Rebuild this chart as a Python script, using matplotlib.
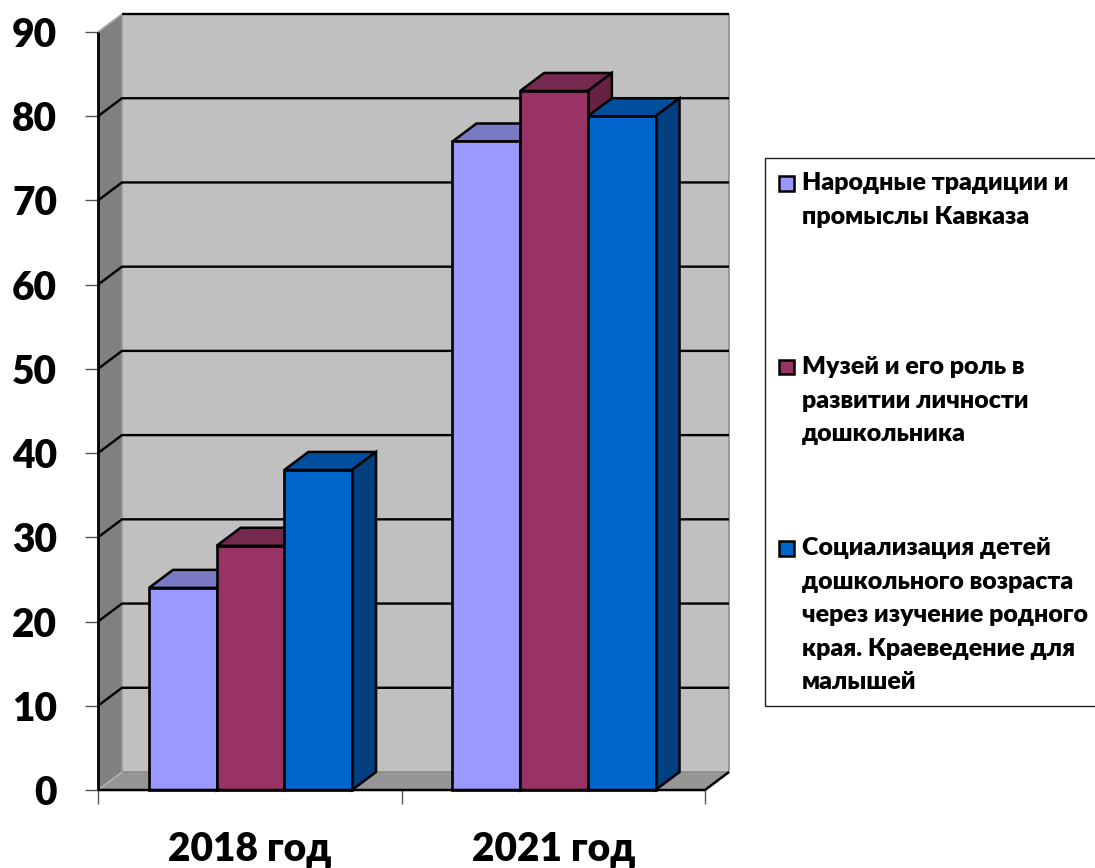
import matplotlib
matplotlib.use('Agg')
import matplotlib.pyplot as plt
from matplotlib.patches import Polygon, Rectangle

W, H = 1095, 868

years = ['2018 год', '2021 год']
series_names = ['Народные традиции и\nпромыслы Кавказа',
                'Музей и его роль в\nразвитии личности\nдошкольника',
                'Социализация детей\nдошкольного возраста\nчерез изучение родного\nкрая. Краеведение для\nмалышей']
folk = [24, 77]
museum = [29, 83]
social = [38, 80]
yticks = [0, 10, 20, 30, 40, 50, 60, 70, 80, 90]

colors = ['#9999ff', '#993366', '#0066cc']
tops = ['#7a7ac4', '#75294f', '#004f9f']
sides = ['#5c5c99', '#652244', '#003f80']

plt.rcParams['font.family'] = ['Lato', 'Open Sans']

fig = plt.figure(figsize=(W / 100, H / 100), dpi=100)
# front plane of the fake 3d box, in pixels
left, right, top, bottom = 98, 705, 32, 790
ax = fig.add_axes([left / W, 1 - bottom / H, (right - left) / W, (bottom - top) / H])
ax.set_xlim(0, 2)
ax.set_ylim(0, 90)
ax.patch.set_visible(False)
for s in ax.spines.values():
    s.set_visible(False)

# depth offset in data units
dx = 24 / ((right - left) / 2)
dy = 18 / ((bottom - top) / 90)


def poly(pts, fc, z=1, lw=1.5, ec='black'):
    ax.add_patch(Polygon(pts, closed=True, fc=fc, ec=ec, lw=lw, zorder=z, clip_on=False,
                         joinstyle='miter'))


def line(xs, ys, c='black', lw=1.5, z=2):
    ax.plot(xs, ys, color=c, lw=lw, zorder=z, clip_on=False, solid_joinstyle='miter',
            solid_capstyle='butt')


# walls and floor
poly([(dx, dy), (2 + dx, dy), (2 + dx, 90 + dy), (dx, 90 + dy)], '#c0c0c0', z=1, lw=0, ec='none')
poly([(0, 0), (dx, dy), (dx, 90 + dy), (0, 90)], '#808080', z=1, lw=0, ec='none')
poly([(0, 0), (2, 0), (2 + dx, dy), (dx, dy)], '#969696', z=1, lw=0, ec='none')
line([dx, dx], [dy, 90 + dy], c='#9a9a9a', lw=1.2, z=1.5)
line([dx, 2 + dx, 2 + dx], [dy, dy, 90 + dy], c='#8c8c8c', lw=1.2, z=1.5)
line([0, dx], [0, dy], c='#b0b0b0', lw=1.2, z=1.5)
line([0, dx], [90, 90 + dy], c='#a8a8a8', lw=1.2, z=1.5)

# gridlines wrap around side wall and back wall
for v in yticks[1:-1]:
    line([0, dx, 2 + dx], [v, v + dy, v + dy], lw=1.7)
line([dx, 2 + dx], [90 + dy, 90 + dy], lw=1.7)

line([0, 0], [0, 90], lw=2)
line([0, 2, 2 + dx], [0, 0, dy], lw=1.8, z=8)

bar_w = 0.223
starts = [0.168, 1.168]

for i, vals in enumerate([folk, museum, social]):
    xs = [s + i * bar_w for s in starts]
    for x, v in zip(xs, vals):
        poly([(x, v), (x + bar_w, v), (x + bar_w + dx, v + dy), (x + dx, v + dy)], tops[i], z=3 + i, lw=1.8)
        poly([(x + bar_w, 0), (x + bar_w + dx, dy), (x + bar_w + dx, v + dy), (x + bar_w, v)], sides[i],
             z=3 + i, lw=1.8)
    ax.bar(xs, vals, width=bar_w, align='edge', color=colors[i], edgecolor='black', linewidth=1.9,
           zorder=3 + i + 0.5, clip_on=False)

ax.set_yticks(yticks)
ax.set_yticklabels([str(v) for v in yticks], fontsize=28, fontweight='heavy')
ax.tick_params(axis='y', length=9.4, width=1, pad=20, color='#555555')
ax.set_xticks([0, 1, 2])
ax.set_xticklabels([])
ax.tick_params(axis='x', length=10, width=1, color='#555555', direction='out')
for x, name in zip([0.5, 1.5], years):
    ax.annotate(name, (x, 0), xytext=(0, -(861 - bottom)), textcoords='offset pixels', ha='center',
                va='baseline', fontsize=28, fontweight='heavy', annotation_clip=False)

# legend drawn by hand to hold the wide spacing of the original
fig.add_artist(Rectangle((765 / W, 1 - 706 / H), 340 / W, 548 / H, transform=fig.transFigure,
                         fc='white', ec='#222222', lw=1))
leg_y = [183, 367, 548]
for y, c, name in zip(leg_y, colors, series_names):
    fig.add_artist(Rectangle((779 / W, 1 - (y + 7.5) / H), 15 / W, 15 / H, transform=fig.transFigure,
                             fc=c, ec='black', lw=1.8))
    fig.text(802 / W, 1 - (y - 11) / H, name, fontsize=18, fontweight='heavy', va='top', ha='left',
             linespacing=1.64)

fig.savefig('out.png', dpi=100)
